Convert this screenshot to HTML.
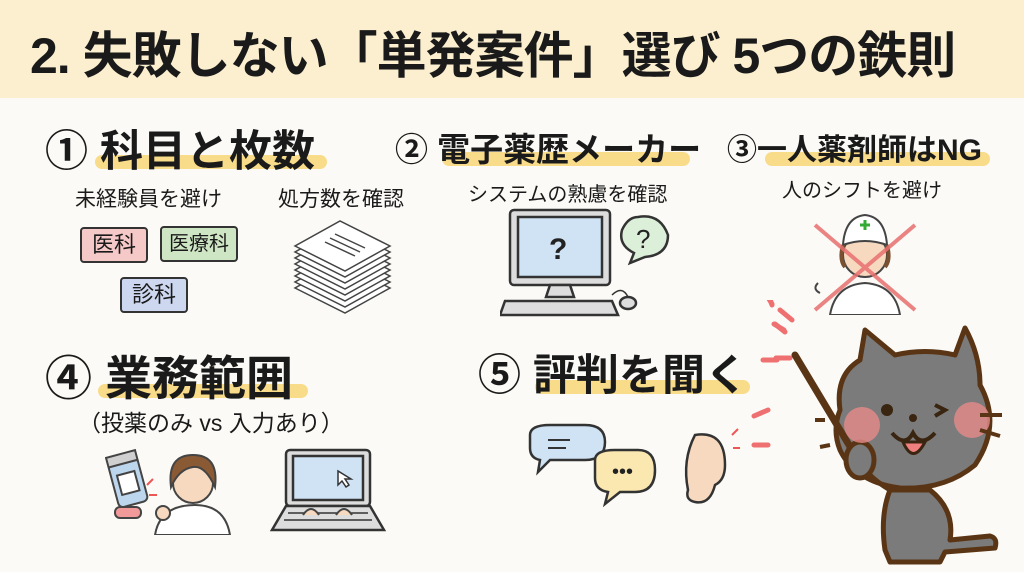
<!DOCTYPE html>
<html><head><meta charset="utf-8">
<style>
body{margin:0;width:1024px;height:572px;overflow:hidden;background:#fbfaf6;font-family:"Liberation Sans","Noto Sans CJK JP",sans-serif;position:relative;color:#1a1a1a}
.abs{position:absolute;white-space:nowrap}
.hdr{position:absolute;left:0;top:0;width:1024px;height:98px;background:#fbefcf}
.t{font-weight:bold}
.hl{position:absolute;background:#f8dc8a;border-radius:8px;height:14px}
.tag{position:absolute;border:2px solid #333;border-radius:4px;font-size:22px;text-align:center;line-height:32px;height:32px}
</style></head><body>
<div class="hdr"></div>
<div class="abs t" style="left:30px;top:16px;font-size:50px;letter-spacing:-1px">2. 失敗しない「単発案件」選び 5つの鉄則</div>

<div class="hl" style="left:95px;top:155px;width:232px"></div>
<div class="abs t" style="left:45px;top:117px;font-size:43px">①&nbsp;科目と枚数</div>
<div class="hl" style="left:442px;top:152px;width:248px"></div>
<div class="abs t" style="left:395px;top:123px;font-size:33px">②&nbsp;電子薬歴メーカー</div>
<div class="hl" style="left:765px;top:152px;width:225px"></div>
<div class="abs t" style="left:727px;top:125px;font-size:30px">③一人薬剤師はNG</div>

<div class="abs" style="left:75px;top:183px;font-size:21px">未経験員を避け</div>
<div class="abs" style="left:278px;top:183px;font-size:21px">処方数を確認</div>
<div class="abs" style="left:468px;top:178px;font-size:20px">システムの熟慮を確認</div>
<div class="abs" style="left:782px;top:174px;font-size:20px">人のシフトを避け</div>

<div class="tag" style="left:80px;top:227px;width:64px;background:#f6c9c9">医科</div>
<div class="tag" style="left:160px;top:226px;width:74px;background:#cfe6c4;font-size:20px">医療科</div>
<div class="tag" style="left:120px;top:277px;width:64px;background:#cdd8f0">診科</div>

<svg class="abs" style="left:290px;top:218px" width="110" height="100" viewBox="0 0 110 100">
<g stroke="#444" stroke-width="1.5" fill="#fff">
<path d="M5 70 L55 95 L100 70 L50 45Z"/><path d="M5 64 L55 89 L100 64 L50 39Z"/><path d="M5 58 L55 83 L100 58 L50 33Z"/><path d="M5 52 L55 77 L100 52 L50 27Z"/><path d="M5 46 L55 71 L100 46 L50 21Z"/><path d="M5 40 L55 65 L100 40 L50 15Z"/><path d="M5 34 L55 59 L100 34 L50 9Z"/><path d="M5 28 L55 53 L100 28 L50 3Z"/>
<path d="M35 24 L65 38 M40 20 L70 34 M45 16 L75 30" fill="none"/></g></svg>

<svg class="abs" style="left:500px;top:205px" width="175" height="115" viewBox="0 0 175 115">
<g stroke="#333" stroke-width="2.5" fill="#ddd">
<rect x="10" y="5" width="100" height="75" rx="4"/><rect x="18" y="12" width="84" height="60" fill="#cfe3f5"/>
<path d="M50 80 L70 80 L74 92 L46 92Z"/><path d="M5 96 L112 96 L118 110 L0 110Z"/>
<ellipse cx="128" cy="98" rx="8" ry="6"/><path d="M112 90 Q122 80 128 92" fill="none" stroke-width="1.5"/>
<path d="M138 12 Q160 8 168 30 Q168 50 145 52 L130 58 L134 48 Q118 40 122 25 Q128 12 138 12Z" fill="#dcefd8"/></g>
<text x="49" y="54" font-size="30" font-weight="bold" fill="#222" font-family="Liberation Sans">?</text>
<text x="136" y="43" font-size="26" fill="#222" font-family="Liberation Sans">?</text></svg>

<svg class="abs" style="left:805px;top:205px" width="130" height="110" viewBox="0 0 130 110">
<path d="M25 110 Q30 80 60 78 Q90 80 95 110Z" fill="#fff" stroke="#444" stroke-width="2"/>
<circle cx="60" cy="50" r="22" fill="#f7d9bf" stroke="#444" stroke-width="2"/>
<path d="M38 40 Q40 12 60 10 Q80 12 82 40 Q60 32 38 40Z" fill="#fff" stroke="#444" stroke-width="2"/>
<path d="M55 20h10M60 15v10" stroke="#3a3" stroke-width="3"/>
<path d="M38 40 Q34 55 40 62 M82 40 Q86 55 80 62" stroke="#7a5030" stroke-width="4" fill="none"/>
<path d="M10 20 L110 105 M110 20 L10 105" stroke="#e87070" stroke-width="4" opacity=".85"/>
<path d="M15 88 q-8 -4 -2 -10" stroke="#444" fill="none" stroke-width="2"/></svg>

<div class="hl" style="left:98px;top:384px;width:210px"></div>
<div class="abs t" style="left:45px;top:340px;font-size:47px">④&nbsp;業務範囲</div>
<div class="abs" style="left:78px;top:404px;font-size:23px">（投薬のみ vs 入力あり）</div>
<div class="hl" style="left:535px;top:380px;width:215px"></div>
<div class="abs t" style="left:478px;top:341px;font-size:43px">⑤&nbsp;評判を聞く</div>

<svg class="abs" style="left:105px;top:445px" width="130" height="90" viewBox="0 0 130 90">
<g stroke="#444" stroke-width="2">
<rect x="8" y="15" width="30" height="45" rx="5" fill="#bcd6ee" transform="rotate(-15 23 37)"/>
<rect x="8" y="8" width="30" height="10" fill="#d0d0d0" transform="rotate(-15 23 37)"/>
<rect x="14" y="28" width="18" height="20" fill="#fff" transform="rotate(-15 23 37)"/>
<rect x="10" y="62" width="26" height="11" rx="5" fill="#f29a9a"/>
<path d="M50 90 Q55 60 90 60 Q120 60 125 90Z" fill="#fff"/>
<circle cx="88" cy="38" r="20" fill="#f7d9bf"/>
<path d="M66 42 Q62 10 88 10 Q114 10 110 42 Q100 20 88 22 Q74 24 66 42Z" fill="#8a5a35"/>
<circle cx="58" cy="68" r="7" fill="#f7d9bf"/></g>
<path d="M42 40 l6 -6 M44 50 l8 0" stroke="#e55" stroke-width="2"/></svg>

<svg class="abs" style="left:268px;top:445px" width="120" height="90" viewBox="0 0 120 90">
<g stroke="#333" stroke-width="2.5">
<rect x="18" y="5" width="84" height="56" rx="4" fill="#ddd"/><rect x="25" y="11" width="70" height="44" fill="#cfe3f5"/>
<path d="M18 61 L102 61 L116 85 L4 85Z" fill="#ddd"/>
<path d="M70 26 l0 14 4 -4 4 6 3 -2 -4 -6 6 0Z" fill="#fff" stroke-width="1.5"/>
<path d="M20 68h80M16 75h88" stroke-width="1.5"/></g>
<path d="M35 70 q8 -12 16 0 M68 70 q8 -12 16 0" stroke="#444" fill="#f7d9bf" stroke-width="2"/></svg>

<svg class="abs" style="left:520px;top:420px" width="220" height="95" viewBox="0 0 220 95">
<g stroke="#333" stroke-width="2.5">
<path d="M10 15 Q10 5 30 5 L65 5 Q85 5 85 22 Q85 40 65 40 L30 40 L18 52 L20 40 Q10 38 10 28Z" fill="#cfe3f5"/>
<path d="M28 20h22M28 28h18" stroke-width="2"/>
<path d="M75 40 Q75 30 95 30 L118 30 Q135 30 135 50 Q135 72 115 72 L100 72 L85 84 L88 72 Q75 70 75 58Z" fill="#fbe7b0"/>
<path d="M175 15 Q205 10 205 45 Q205 60 195 65 Q190 85 175 82 Q165 80 168 70 Q162 40 175 15Z" fill="#f7d9bf"/></g>
<text x="92" y="58" font-size="20" font-family="Liberation Sans" fill="#222">•••</text>
<path d="M212 15l6 -6 M213 28h7" stroke="#e55" stroke-width="2"/></svg>

<svg class="abs" style="left:740px;top:300px" width="284" height="272" viewBox="0 0 284 272">
<path d="M32 4 l-6 -10 M52 20 l-12 -10 M44 30 l-10 -6 M37 60 h-14 M28 110 l-14 6 M28 145 h-14" stroke="#ee7070" stroke-width="5" stroke-linecap="round"/>
<path d="M32 5 l-5 -15 M45 32 l-10 -8 M50 58 h-14" stroke="#ee7070" stroke-width="5" stroke-linecap="round"/>
<g stroke="#5a3515" stroke-width="5" fill="#7b7b7b" stroke-linejoin="round">
<path d="M190 190 Q215 210 210 240 L250 236 Q258 238 255 248 L205 252 L200 262 L170 262 L150 262 L145 250 Q140 215 150 190Z"/>
<path d="M100 110 Q95 75 120 60 L125 30 L155 55 Q185 48 215 55 L225 28 Q240 55 240 85 Q262 125 235 165 Q205 190 160 188 Q115 182 100 150 Q92 130 100 110Z"/>
<path d="M120 160 Q125 175 150 190" fill="none"/>
</g>
<path d="M55 55 L118 160" stroke="#5a3515" stroke-width="7" stroke-linecap="round"/>
<ellipse cx="120" cy="160" rx="14" ry="18" fill="#7b7b7b" stroke="#5a3515" stroke-width="5"/>
<circle cx="122" cy="125" r="18" fill="#e88b8b" opacity=".8"/>
<circle cx="232" cy="120" r="18" fill="#e88b8b" opacity=".8"/>
<circle cx="147" cy="110" r="6" fill="#3a2510"/>
<circle cx="173" cy="118" r="4" fill="#3a2510"/>
<path d="M195 105 l10 5 -10 6" stroke="#3a2510" stroke-width="4" fill="none"/>
<path d="M152 133 Q165 148 173 133 Q181 148 195 133" stroke="#3a2510" stroke-width="4" fill="none"/>
<path d="M163 142 Q173 165 185 142Z" fill="#f08080" stroke="#3a2510" stroke-width="3"/>
<path d="M240 115h22M240 130l20 6M85 120h-10M90 145l-10 2" stroke="#5a3515" stroke-width="4"/>
</svg>
</body></html>
